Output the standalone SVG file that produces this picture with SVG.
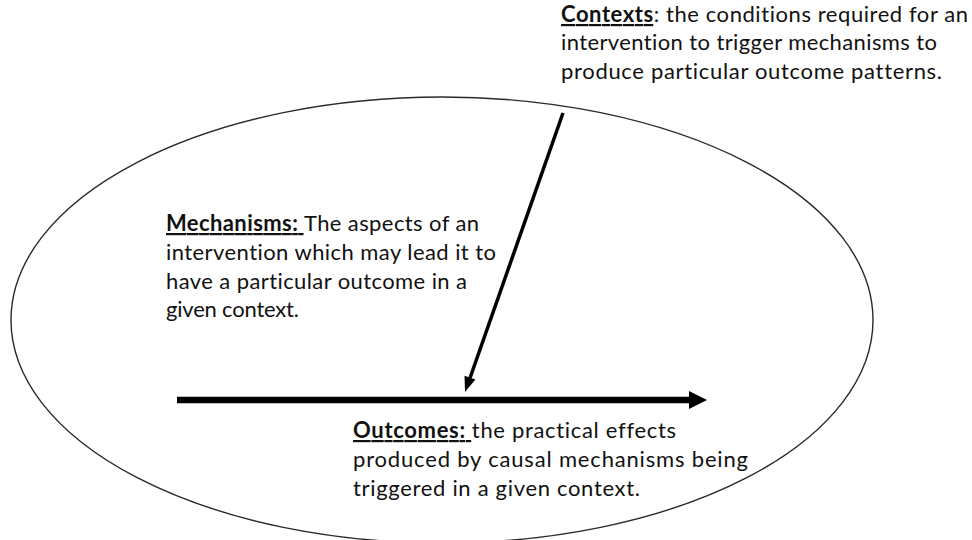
<svg xmlns="http://www.w3.org/2000/svg" width="972" height="540" viewBox="0 0 972 540">
  <style>
    .lbl { font-family: Lato, "Open Sans", "Liberation Sans", sans-serif; font-size: 22px; fill: #111111; font-variant-ligatures: none; }
    .key { font-weight: bold; text-decoration: underline; }
    .ring { fill: none; stroke: #2a2a2a; stroke-width: 1.4; }
    .shaft { stroke: #000; fill: none; }
    .head { fill: #000; stroke: none; }
  </style>
  <rect width="972" height="540" fill="#ffffff"/>

  <!-- the enclosing context ellipse -->
  <g id="context-ellipse">
    <ellipse class="ring" cx="442" cy="320" rx="431" ry="223"/>
  </g>

  <!-- arrows: context acting on the intervention, and the intervention-to-outcome line -->
  <g id="connectors">
    <line class="shaft" x1="563" y1="113" x2="470" y2="378" stroke-width="3.5"/>
    <polygon class="head" points="465,392 475.4,379.6 464.5,375.8"/>
    <line class="shaft" x1="177" y1="400" x2="691" y2="400" stroke-width="6.6"/>
    <polygon class="head" points="707,400 689,391 689,409"/>
  </g>

  <g id="contexts">
    <text class="lbl" x="561" y="22" textLength="407"><tspan class="key">Contexts</tspan>: the conditions required for an</text>
    <text class="lbl" x="561" y="50" textLength="376">intervention to trigger mechanisms to</text>
    <text class="lbl" x="561" y="79" textLength="381">produce particular outcome patterns.</text>
  </g>

  <g id="mechanisms">
    <text class="lbl" x="166" y="231" textLength="313"><tspan class="key">Mechanisms: </tspan>The aspects of an</text>
    <text class="lbl" x="166" y="260" textLength="330">intervention which may lead it to</text>
    <text class="lbl" x="166" y="289" textLength="301">have a particular outcome in a</text>
    <text class="lbl" x="166" y="317" textLength="133">given context.</text>
  </g>

  <g id="outcomes">
    <text class="lbl" x="353" y="438" textLength="323"><tspan class="key">Outcomes: </tspan>the practical effects</text>
    <text class="lbl" x="353" y="467" textLength="395">produced by causal mechanisms being</text>
    <text class="lbl" x="353" y="496" textLength="287">triggered in a given context.</text>
  </g>
</svg>
